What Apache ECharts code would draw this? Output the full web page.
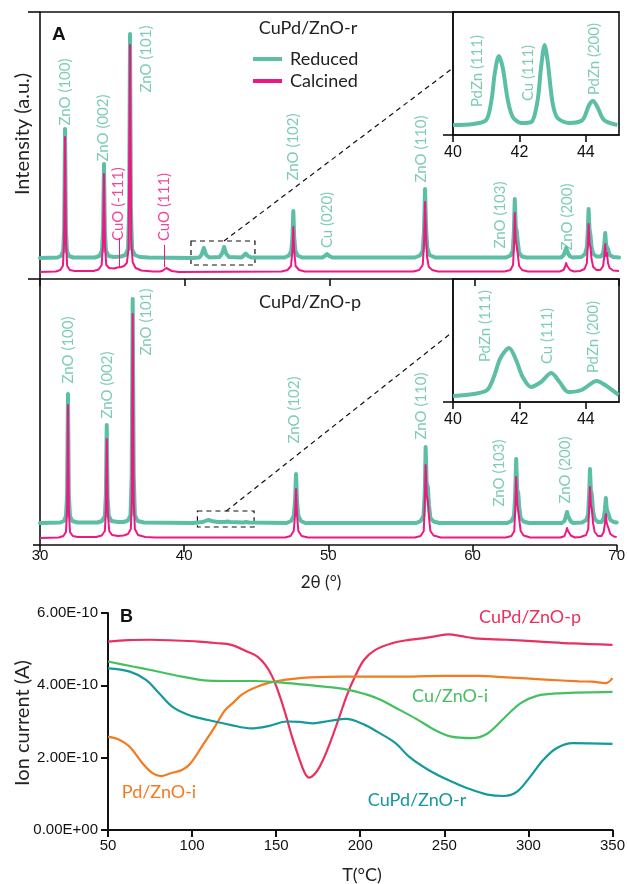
<!DOCTYPE html>
<html><head><meta charset="utf-8">
<script src="https://cdn.jsdelivr.net/npm/echarts@6/dist/echarts.min.js"></script>
<style>html,body{margin:0;padding:0;background:#fff}#c{width:628px;height:884px}</style>
</head><body><div id="c"></div><script>
// ---------- Panel A: XRD, CuPd/ZnO-r (2theta, intensity a.u.) ----------
const TOP_REDUCED = [[30.0,21],[31.2,21.5],[31.45,23],[31.6,28],[31.67,50],[31.73,150],[31.79,50],[31.86,28],[32.0,23],[32.3,21.5],
[33.8,21.5],[34.1,23],[34.28,28],[34.36,50],[34.42,115],[34.48,48],[34.56,28],[34.75,23],[35.1,22],
[35.6,22.5],[35.9,24],[36.08,30],[36.16,70],[36.22,245],[36.28,70],[36.36,30],[36.55,24],[36.9,22],[37.5,21.5],
[40.5,21],[41.0,21.5],[41.15,24],[41.32,31],[41.48,24],[41.7,21.5],[42.4,22],[42.58,25.5],[42.72,32],[42.86,25.5],[43.05,22],[43.9,21.5],[44.05,23],[44.2,25.5],[44.38,23],[44.6,21.5],
[46.9,21.5],[47.2,23.5],[47.36,28],[47.44,42],[47.5,68],[47.56,42],[47.64,28],[47.8,23.5],[48.1,21.5],
[49.5,21.5],[49.68,23],[49.83,25],[49.98,23],[50.2,21.5],
[55.9,21.5],[56.25,23.5],[56.44,28],[56.53,48],[56.6,90],[56.67,52],[56.75,32],[56.9,24],[57.3,21.5],
[62.2,21.5],[62.5,23.5],[62.66,28],[62.74,48],[62.8,80],[62.87,52],[62.93,48],[63.0,38],[63.1,26],[63.3,22.5],[63.6,21.5],
[66.0,21.5],[66.18,24],[66.28,28],[66.35,31],[66.42,28],[66.5,25],[66.62,22.5],[66.8,21.5],
[67.4,22],[67.66,25],[67.78,32],[67.85,50],[67.9,70],[67.96,50],[68.03,44],[68.1,32],[68.22,25],[68.45,22.5],
[68.75,22.5],[68.9,26],[68.98,34],[69.05,46],[69.11,34],[69.17,36],[69.24,30],[69.35,24],[69.6,22],[70.0,21.5]];
const TOP_CALCINED = [[30.0,7],[31.1,7.5],[31.4,9],[31.58,13],[31.66,35],[31.73,142],[31.8,35],[31.88,13],[32.06,9],[32.4,8],
[33.7,8],[34.05,9.5],[34.26,14],[34.35,35],[34.42,105],[34.49,33],[34.58,14],[34.78,11],[35.1,10.5],[35.35,11.5],[35.48,13],[35.6,12],[35.8,13],[36.0,16],[36.12,30],[36.22,234],[36.3,40],[36.4,17],[36.6,11],[37.0,8.5],[37.8,7.5],
[38.3,7.5],[38.5,8.5],[38.62,10.5],[38.72,11],[38.85,9.5],[39.1,8],[39.6,7],
[46.7,7.5],[47.1,9],[47.34,13],[47.44,28],[47.5,52],[47.56,28],[47.66,13],[47.9,9],[48.3,7.5],
[55.8,7.5],[56.2,9],[56.44,14],[56.53,35],[56.6,77],[56.67,42],[56.74,22],[56.86,12],[57.1,9],[57.5,7.5],
[62.1,7.5],[62.5,9],[62.68,14],[62.75,35],[62.8,66],[62.86,40],[62.92,38],[63.0,26],[63.1,13],[63.3,9],[63.7,7.5],
[65.9,7.5],[66.17,9],[66.28,12.5],[66.35,16],[66.42,13],[66.5,12],[66.62,9],[66.9,7.5],
[67.3,8],[67.62,10],[67.78,16],[67.85,35],[67.9,55],[67.96,36],[68.03,32],[68.1,20],[68.22,12],[68.45,9],
[68.72,9],[68.9,13],[68.98,22],[69.05,35],[69.11,23],[69.17,26],[69.24,16],[69.35,11],[69.6,8.5],[70.0,8]];
// ---------- Panel A: XRD, CuPd/ZnO-p ----------
const MID_REDUCED = [[30.0,22],[31.4,22.5],[31.66,24],[31.8,29],[31.88,50],[31.94,151],[32.0,50],[32.08,29],[32.24,24],[32.6,22.5],
[34.0,22.5],[34.3,24],[34.5,29],[34.57,50],[34.63,120],[34.69,48],[34.77,29],[34.96,24],[35.4,23],
[35.8,23],[36.1,24.5],[36.28,30],[36.36,70],[36.43,246],[36.5,70],[36.58,30],[36.78,24],[37.2,22.5],
[40.6,22],[41.3,23],[41.55,24.5],[41.7,25],[41.9,24],[42.3,23],[42.8,23],[43.0,23.5],[43.2,23],[44.1,22.5],[44.3,23],[44.5,22.5],
[47.1,22],[47.42,24],[47.6,29],[47.69,44],[47.76,71],[47.83,44],[47.92,29],[48.1,24],[48.4,22],
[56.1,22],[56.4,24],[56.6,29],[56.69,52],[56.75,98],[56.82,62],[56.9,58],[56.98,40],[57.08,27],[57.3,23.5],[57.7,22],
[62.4,22],[62.7,24],[62.88,29],[62.96,50],[63.03,86],[63.1,55],[63.17,52],[63.24,38],[63.34,27],[63.55,23.5],[63.9,22],
[66.2,22],[66.38,24],[66.48,29],[66.56,33],[66.63,29],[66.7,27],[66.82,23.5],[67.0,22],
[67.6,22.5],[67.9,25],[68.02,31],[68.09,50],[68.15,76],[68.21,55],[68.28,50],[68.36,34],[68.48,26],[68.7,23],
[68.95,23],[69.1,27],[69.18,35],[69.25,47],[69.31,36],[69.38,38],[69.45,30],[69.56,25],[69.8,23],[70.0,22.5]];
const MID_CALCINED = [[30.0,7],[31.3,7.5],[31.62,9],[31.8,13],[31.88,35],[31.94,140],[32.0,35],[32.08,13],[32.28,9],[32.6,8],
[33.9,8],[34.28,9.5],[34.5,14],[34.57,35],[34.63,106],[34.7,33],[34.8,14],[35.0,10],[35.4,9],
[35.8,9.5],[36.1,11],[36.3,16],[36.37,45],[36.43,231],[36.5,45],[36.58,16],[36.8,10],[37.3,8],[38.0,7.5],
[47.0,7.5],[47.38,9],[47.6,14],[47.69,30],[47.76,56],[47.83,30],[47.92,14],[48.15,9],[48.6,7.5],
[56.0,7.5],[56.4,9],[56.62,14],[56.69,42],[56.75,80],[56.82,50],[56.9,45],[56.98,28],[57.08,14],[57.3,9.5],[57.8,7.5],
[62.3,7.5],[62.7,9],[62.9,14],[62.97,38],[63.03,68],[63.1,42],[63.17,40],[63.24,26],[63.34,14],[63.55,9.5],[64.0,7.5],
[66.1,7.5],[66.38,9],[66.48,13],[66.56,17],[66.63,14],[66.7,13],[66.82,9.5],[67.1,7.5],
[67.5,8],[67.88,10],[68.03,16],[68.09,36],[68.15,58],[68.21,40],[68.28,36],[68.36,22],[68.48,13],[68.7,9],
[68.95,9],[69.1,13],[69.18,21],[69.25,31],[69.31,22],[69.38,24],[69.45,16],[69.56,11],[69.8,8.5],[70.0,8]];
// ---------- insets (40-45 deg) ----------
const INSET_TOP = [[40.0,10],[40.6,11],[41.0,15],[41.16,35],[41.26,62],[41.38,79],[41.5,67],[41.65,35],[41.8,18],[42.05,12],[42.36,13],[42.55,35],[42.65,67],[42.76,90],[42.85,74],[43.0,32],[43.15,17],[43.5,12],[43.9,15],[44.1,30],[44.22,34],[44.35,28],[44.55,15],[44.95,10]];
const INSET_MID = [[40.0,6],[40.62,8],[41.03,12],[41.23,25],[41.43,44],[41.69,54],[41.9,42],[42.1,25],[42.35,15],[42.65,20],[42.96,29],[43.21,20],[43.47,10],[43.87,12],[44.33,21],[44.58,17],[44.99,7]];
// ---------- peak labels [2theta, label centre, text] ----------
const TOP_LABELS = [[31.73,187,'ZnO (100)'],[34.35,151,'ZnO (002)'],[37.33,220,'ZnO (101)'],[47.48,132,'ZnO (102)'],[49.83,59,'Cu (020)'],[56.33,130,'ZnO (110)'],[61.79,64,'ZnO (103)'],[66.42,62,'ZnO (200)']];
const TOP_CUO_LABELS = [[35.4,75,'CuO (-111)'],[38.57,72,'CuO (111)']];
const CUO_LEADERS = [[35.48,11,41],[38.6,12,34]];
const MID_LABELS = [[31.94,195,'ZnO (100)'],[34.63,160,'ZnO (002)'],[37.39,223,'ZnO (101)'],[47.62,135,'ZnO (102)'],[56.47,139,'ZnO (110)'],[61.86,72,'ZnO (103)'],[66.42,75,'ZnO (200)']];
const INSET_TOP_LABELS = [[40.72,64,'PdZn (111)'],[42.26,62,'Cu (111)'],[44.25,76,'PdZn (200)']];
const INSET_MID_LABELS = [[40.98,76,'PdZn (111)'],[42.84,66,'Cu (111)'],[44.21,65,'PdZn (200)']];
// zoom box [x0,x1,y0,y1] and connector [x0,y0,x1,y1]
const TOP_BOX = [40.43,44.85,14,38];
const TOP_CONNECT = [42.71,38,58.53,211];
const MID_BOX = [40.92,44.85,18,34];
const MID_CONNECT = [42.92,34,58.53,212];
// ---------- Panel B: ion current (x1e-10 A) vs T (C) ----------
const B_CUPD_P = [[50,5.21],[62,5.25],[75,5.26],[90,5.24],[104,5.21],[114,5.17],[123.3,5.12],[133,4.93],[139,4.79],[143.7,4.56],[147.7,4.24],[151.6,3.78],[155.4,3.23],[159.4,2.58],[163.3,2.03],[167.1,1.57],[169.7,1.45],[174,1.61],[177.9,1.94],[182.7,2.49],[187.6,3.13],[192.5,3.78],[197.4,4.29],[202.2,4.7],[209,4.98],[218.8,5.16],[228,5.25],[237,5.3],[245,5.36],[252.5,5.41],[260,5.36],[268,5.3],[287,5.26],[307,5.21],[326,5.16],[350,5.12]];
const B_PD_I = [[50,2.58],[57,2.49],[62.9,2.3],[70.6,1.84],[76.5,1.57],[81.4,1.49],[87.2,1.57],[94,1.66],[99,1.84],[105.7,2.3],[113.6,2.86],[119.4,3.3],[124,3.5],[129,3.72],[133,3.84],[139,3.97],[145,4.06],[150.6,4.12],[160,4.18],[170,4.22],[190,4.24],[220,4.24],[250,4.26],[270,4.26],[287,4.22],[310,4.16],[330,4.11],[338,4.1],[346,4.06],[350,4.2]];
const B_CU_I = [[50,4.66],[64.8,4.52],[74.6,4.43],[94,4.24],[103.8,4.16],[109.6,4.13],[123,4.12],[137,4.12],[150,4.09],[162,4.04],[175,3.98],[191.5,3.89],[205,3.73],[212,3.6],[221,3.38],[233,3.08],[244.6,2.76],[254.3,2.58],[266,2.54],[275.7,2.67],[285.5,3.09],[295.2,3.5],[305,3.71],[318.6,3.78],[350,3.82]];
const B_CUPD_R = [[50,4.47],[63,4.38],[72.6,4.15],[80.4,3.78],[88.2,3.41],[98,3.18],[109.6,3.04],[123.3,2.9],[135,2.81],[146,2.88],[156.4,3.0],[164,2.99],[172,2.95],[182,3.02],[191.5,3.07],[203,2.9],[210,2.72],[220.8,2.41],[229,2.03],[240.6,1.66],[252.3,1.38],[264,1.15],[275.7,0.98],[285.5,0.94],[293.3,1.06],[301,1.47],[308.9,1.94],[316.7,2.26],[326.4,2.4],[350,2.38]];
const B_X_TICKS = [50,100,150,200,250,300,350];

const TEAL = '#5cbea4', PINK = '#ee1884';
const C_RED = '#e8315f', C_ORANGE = '#f47a20', C_GREEN = '#45c060', C_TEAL = '#16999b';
const AX = '#111';
const LBL = 'Lato';

function lineAx(w){return {lineStyle:{color:AX,width:w}};}
function labelSeries(name, arr, xi, yi, color, size){
  return {name:name, type:'scatter', xAxisIndex:xi, yAxisIndex:yi, symbolSize:1, silent:true,
    itemStyle:{color:'rgba(0,0,0,0)'}, z:5,
    label:{show:true, position:'inside', rotate:90, align:'center', verticalAlign:'middle',
      formatter:'{b}', color:color, fontFamily:LBL, fontSize:size},
    data: arr.map(d=>({name:d[2], value:[d[0],d[1]]}))};
}
function box(b){return [[{coord:[b[0],b[3]]},{coord:[b[1],b[2]]}]];}
function conn(c){return [[{coord:[c[0],c[1]]},{coord:[c[2],c[3]]}]];}
const dashed = {color:'#111', width:1.2, type:[5,4]};

const option = {
  animation:false,
  legend:{data:[{name:'Reduced', icon:'rect'},{name:'Calcined', icon:'rect'}], orient:'vertical', left:248, top:43, itemWidth:29, itemHeight:4, itemGap:0,
    selectedMode:false, textStyle:{fontFamily:LBL, fontSize:18, lineHeight:22, color:'#222', padding:[0,0,0,3]}},
  grid:[
    {left:40, top:12, width:579, height:267},
    {left:40, top:279, width:579, height:266},
    {left:453, top:12, width:166, height:123, show:true, borderColor:AX, borderWidth:1.6, backgroundColor:'rgba(0,0,0,0)'},
    {left:453, top:279, width:166, height:123, show:true, borderColor:AX, borderWidth:1.6, backgroundColor:'rgba(0,0,0,0)'},
    {left:108, top:613, width:513, height:217}
  ],
  xAxis:[
    {type:'value', gridIndex:0, min:30, max:70, interval:10, axisLine:lineAx(1.6), axisTick:{length:7, lineStyle:{color:AX,width:1.6}}, axisLabel:{show:false}, splitLine:{show:false}},
    {type:'value', gridIndex:0, position:'top', min:30, max:70, interval:10, axisLine:lineAx(1.6), axisTick:{show:false}, axisLabel:{show:false}, splitLine:{show:false}},
    {type:'value', gridIndex:1, min:30, max:70, interval:10, axisLine:lineAx(1.6), axisTick:{length:7, lineStyle:{color:AX,width:1.6}},
      axisLabel:{fontFamily:'Liberation Sans', fontSize:15, color:'#111', margin:3}, splitLine:{show:false}},
    {type:'value', gridIndex:2, min:40, max:45, axisLine:lineAx(1.6), axisTick:{length:7, customValues:[40,42,44], lineStyle:{color:AX,width:1.6}},
      axisLabel:{customValues:[40,42,44], fontFamily:'Liberation Sans', fontSize:16, color:'#111', margin:10}, splitLine:{show:false}},
    {type:'value', gridIndex:3, min:40, max:45, axisLine:lineAx(1.6), axisTick:{length:7, customValues:[40,42,44], lineStyle:{color:AX,width:1.6}},
      axisLabel:{customValues:[40,42,44], fontFamily:'Liberation Sans', fontSize:16, color:'#111', margin:10}, splitLine:{show:false}},
    {type:'value', gridIndex:4, min:50, max:350, interval:50, axisLine:lineAx(2), axisTick:{length:7, customValues:B_X_TICKS, lineStyle:{color:AX,width:2}},
      axisLabel:{customValues:B_X_TICKS, fontFamily:'Liberation Sans', fontSize:15, color:'#111', margin:8}, splitLine:{show:false}}
  ],
  yAxis:[
    {type:'value', gridIndex:0, min:0, max:267, axisLine:{show:true, lineStyle:{color:AX,width:1.6}}, axisTick:{show:true, length:12, customValues:[0,267], lineStyle:{color:AX,width:1.6}}, axisLabel:{show:false}, splitLine:{show:false}},
    {type:'value', gridIndex:1, min:0, max:266, axisLine:{show:true, lineStyle:{color:AX,width:1.6}}, axisTick:{show:true, length:7, customValues:[0], lineStyle:{color:AX,width:1.6}}, axisLabel:{show:false}, splitLine:{show:false}},
    {type:'value', gridIndex:2, min:0, max:123, axisLine:{show:true, lineStyle:{color:AX,width:1.6}}, axisTick:{show:true, length:10, customValues:[0], lineStyle:{color:AX,width:1.6}}, axisLabel:{show:false}, splitLine:{show:false}},
    {type:'value', gridIndex:3, min:0, max:123, axisLine:{show:true, lineStyle:{color:AX,width:1.6}}, axisTick:{show:true, length:10, customValues:[0], lineStyle:{color:AX,width:1.6}}, axisLabel:{show:false}, splitLine:{show:false}},
    {type:'value', gridIndex:4, min:0, max:6, interval:2, axisLine:{show:true, lineStyle:{color:AX,width:2}}, axisTick:{show:true, length:7, lineStyle:{color:AX,width:2}},
      axisLabel:{fontFamily:'Liberation Sans', fontSize:15, color:'#111', margin:10, formatter:v=> v===0?'0.00E+00':v.toFixed(2)+'E-10'}, splitLine:{show:false}}
  ],
  series:[
    {name:'Reduced', type:'line', xAxisIndex:0, yAxisIndex:0, data:TOP_REDUCED, symbol:'none', z:2,
      lineStyle:{color:TEAL, width:4, join:'round', cap:'round'}, itemStyle:{color:TEAL},
      markLine:{silent:true, symbol:['none','none'], label:{show:false}, lineStyle:dashed, data:conn(TOP_CONNECT)},
      markArea:{silent:true, label:{show:false}, itemStyle:{color:'rgba(0,0,0,0)', borderColor:'#111', borderWidth:1.2, borderType:[5,4]}, data:box(TOP_BOX)}},
    {name:'Calcined', type:'line', xAxisIndex:0, yAxisIndex:0, data:TOP_CALCINED, symbol:'none', z:3,
      lineStyle:{color:PINK, width:2, join:'round'}, itemStyle:{color:PINK},
      markLine:{silent:true, symbol:['none','none'], label:{show:false}, lineStyle:{color:PINK, width:1, type:'solid'},
        data:CUO_LEADERS.map(d=>[{coord:[d[0],d[1]]},{coord:[d[0],d[2]]}])}},
    {name:'Reduced', type:'line', xAxisIndex:2, yAxisIndex:1, data:MID_REDUCED, symbol:'none', z:2,
      lineStyle:{color:TEAL, width:4, join:'round', cap:'round'}, itemStyle:{color:TEAL},
      markLine:{silent:true, symbol:['none','none'], label:{show:false}, lineStyle:dashed, data:conn(MID_CONNECT)},
      markArea:{silent:true, label:{show:false}, itemStyle:{color:'rgba(0,0,0,0)', borderColor:'#111', borderWidth:1.2, borderType:[5,4]}, data:box(MID_BOX)}},
    {name:'Calcined', type:'line', xAxisIndex:2, yAxisIndex:1, data:MID_CALCINED, symbol:'none', z:3,
      lineStyle:{color:PINK, width:2, join:'round'}, itemStyle:{color:PINK}},
    {name:'Reduced', type:'line', xAxisIndex:3, yAxisIndex:2, data:INSET_TOP, symbol:'none', smooth:0.3, z:2,
      lineStyle:{color:TEAL, width:4, join:'round'}, itemStyle:{color:TEAL}},
    {name:'Reduced', type:'line', xAxisIndex:4, yAxisIndex:3, data:INSET_MID, symbol:'none', smooth:0.3, z:2,
      lineStyle:{color:TEAL, width:4, join:'round'}, itemStyle:{color:TEAL}},
    labelSeries('lblTop', TOP_LABELS, 0, 0, TEAL, 15),
    labelSeries('lblCuO', TOP_CUO_LABELS, 0, 0, PINK, 15),
    labelSeries('lblMid', MID_LABELS, 2, 1, TEAL, 15),
    labelSeries('lblInTop', INSET_TOP_LABELS, 3, 2, TEAL, 15),
    labelSeries('lblInMid', INSET_MID_LABELS, 4, 3, TEAL, 15),
    {name:'CuPd/ZnO-p', type:'line', xAxisIndex:5, yAxisIndex:4, data:B_CUPD_P, symbol:'none', smooth:0.35, lineStyle:{color:C_RED, width:2.2}},
    {name:'Pd/ZnO-i', type:'line', xAxisIndex:5, yAxisIndex:4, data:B_PD_I, symbol:'none', smooth:0.35, lineStyle:{color:C_ORANGE, width:2.2}},
    {name:'Cu/ZnO-i', type:'line', xAxisIndex:5, yAxisIndex:4, data:B_CU_I, symbol:'none', smooth:0.35, lineStyle:{color:C_GREEN, width:2.2}},
    {name:'CuPd/ZnO-r', type:'line', xAxisIndex:5, yAxisIndex:4, data:B_CUPD_R, symbol:'none', smooth:0.35, lineStyle:{color:C_TEAL, width:2.2}}
  ],
  graphic:[
    {type:'text', x:52, y:35, style:{text:'A', font:'bold 19px "Liberation Sans"', fill:'#111', textAlign:'left', textVerticalAlign:'middle'}},
    {type:'text', x:308, y:28, style:{text:'CuPd/ZnO-r', font:'18px Lato', fill:'#222', textAlign:'center', textVerticalAlign:'middle'}},
    {type:'text', x:310, y:302, style:{text:'CuPd/ZnO-p', font:'18px Lato', fill:'#222', textAlign:'center', textVerticalAlign:'middle'}},
    {type:'text', x:23, y:134, rotation:Math.PI/2, style:{text:'Intensity (a.u.)', font:'20px Lato', fill:'#222', textAlign:'center', textVerticalAlign:'middle'}},
    {type:'text', x:321, y:583, style:{text:'2θ (°)', font:'17px Lato', fill:'#222', textAlign:'center', textVerticalAlign:'middle'}},
    {type:'text', x:120, y:617, style:{text:'B', font:'bold 18px "Liberation Sans"', fill:'#111', textAlign:'left', textVerticalAlign:'middle'}},
    {type:'text', x:23, y:723, rotation:Math.PI/2, style:{text:'Ion current (A)', font:'20px Lato', fill:'#222', textAlign:'center', textVerticalAlign:'middle'}},
    {type:'text', x:362, y:875, style:{text:'T(°C)', font:'18px Lato', fill:'#222', textAlign:'center', textVerticalAlign:'middle'}},
    {type:'text', x:530, y:617, style:{text:'CuPd/ZnO-p', font:'18px Lato', fill:C_RED, textAlign:'center', textVerticalAlign:'middle'}},
    {type:'text', x:450, y:696, style:{text:'Cu/ZnO-i', font:'18px Lato', fill:C_GREEN, textAlign:'center', textVerticalAlign:'middle'}},
    {type:'text', x:417, y:800, style:{text:'CuPd/ZnO-r', font:'18px Lato', fill:C_TEAL, textAlign:'center', textVerticalAlign:'middle'}},
    {type:'text', x:159, y:792, style:{text:'Pd/ZnO-i', font:'18px Lato', fill:C_ORANGE, textAlign:'center', textVerticalAlign:'middle'}}
  ]
};
const chart = echarts.init(document.getElementById('c'));
chart.setOption(option);
</script></body></html>
